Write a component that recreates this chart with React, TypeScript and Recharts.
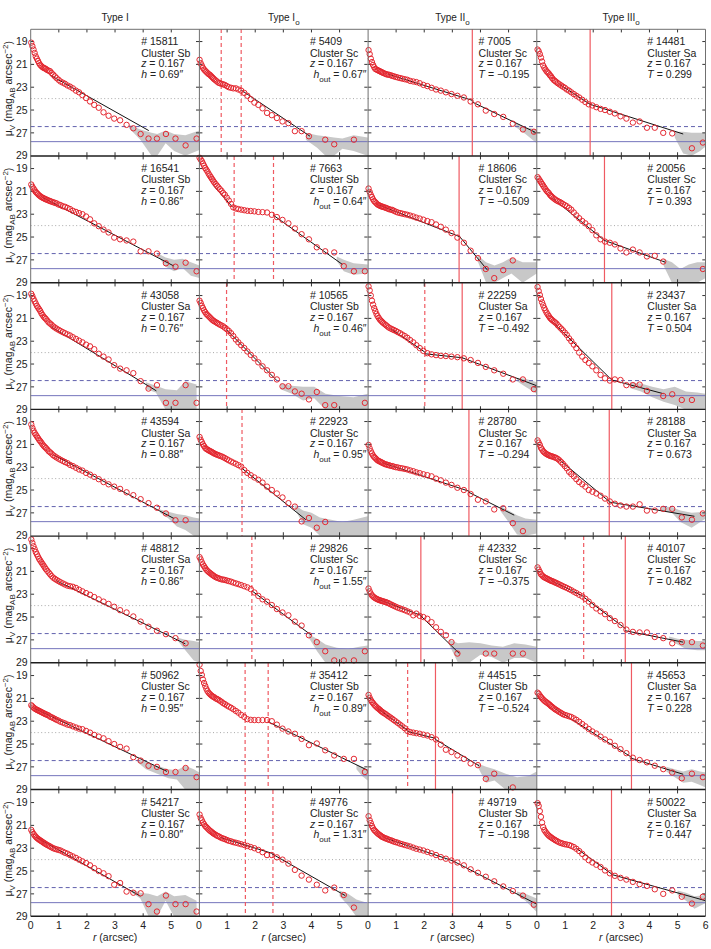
import React from "react";
import { ComposedChart, Scatter, Line, Area, XAxis, YAxis, ReferenceLine } from "recharts";

// radius grid shared by all profiles (arcsec)
const radius = [
  0.02, 0.06, 0.1, 0.14, 0.18, 0.22, 0.26, 0.3, 0.34, 0.38, 0.42, 0.46,
  0.5, 0.54, 0.59, 0.64, 0.69, 0.74, 0.8, 0.86, 0.92, 0.99, 1.06, 1.14,
  1.22, 1.31, 1.4, 1.5, 1.61, 1.72, 1.84, 1.97, 2.11, 2.26, 2.42, 2.59,
  2.77, 2.97, 3.18, 3.41, 3.65, 3.91, 4.19, 4.49, 4.81, 5.15, 5.51, 5.9,
];

const xTicks = [0, 1, 2, 3, 4, 5];
const xTicksLast = [0, 1, 2, 3, 4, 5, 6];
const yTicks = [19, 21, 23, 25, 27, 29];
const columnTitles = ["I", "I", "II", "III"];
const columnSub = ["", "o", "o", "o"];

// surface brightness profiles, mag arcsec^-2
const mu15811 = [19.1, 19.4, 19.7, 20.0, 20.3, 20.5, 20.7, 20.9, 21.05, 21.15, 21.25, 21.3, 21.35, 21.4, 21.5, 21.55, 21.6, 21.75, 21.9, 22.05, 22.2, 22.35, 22.5, 22.6, 22.7, 22.85, 22.95, 23.1, 23.3, 23.45, 23.7, 23.95, 24.25, 24.55, 24.8, 25.2, 25.5, 25.75, 25.9, 26.3, 26.6, 27.1, 27.5, 27.5, 27.1, 27.5, 28.1, 27.5];
const mu5409 = [20.6, 20.9, 21.1, 21.3, 21.45, 21.55, 21.65, 21.75, 21.85, 21.9, 22.0, 22.1, 22.2, 22.3, 22.4, 22.5, 22.6, 22.65, 22.7, 22.75, 22.8, 22.9, 23.0, 23.05, 23.1, 23.1, 23.2, 23.3, 23.5, 23.75, 24.05, 24.35, 24.55, 24.85, 25.25, 25.45, 25.7, 26.0, 26.15, 26.85, 26.85, 27.3, null, 27.6, 28.0, null, 27.6, null];
const mu7005 = [19.75, 20.1, 20.5, 20.8, 21.05, 21.25, 21.4, 21.45, 21.5, 21.55, 21.6, 21.65, 21.7, 21.75, 21.8, 21.85, 21.9, 21.9, 21.95, 22.0, 22.05, 22.1, 22.15, 22.2, 22.25, 22.3, 22.35, 22.45, 22.5, 22.55, 22.65, 22.8, 22.9, 23.05, 23.2, 23.3, 23.45, 23.6, 23.75, 23.9, 24.25, 24.5, 25.05, 25.35, 25.6, 26.2, 26.7, 26.9];
const mu14481 = [19.7, 19.85, 20.1, 20.4, 20.75, 21.1, 21.3, 21.45, 21.6, 21.7, 21.8, 21.95, 22.05, 22.2, 22.35, 22.45, 22.55, 22.65, 22.75, 22.85, 22.95, 23.05, 23.2, 23.3, 23.45, 23.6, 23.75, 23.9, 24.1, 24.3, 24.5, 24.6, 24.75, 24.9, 25.0, 25.15, 25.3, 25.55, 25.75, 26.1, 26.0, 26.55, 26.55, 27.0, 27.05, null, 28.35, 27.85];
const mu16541 = [20.4, 20.6, 20.75, 20.9, 21.05, 21.15, 21.25, 21.35, 21.42, 21.5, 21.55, 21.6, 21.65, 21.7, 21.75, 21.8, 21.85, 21.9, 21.95, 22.0, 22.05, 22.15, 22.2, 22.3, 22.35, 22.45, 22.55, 22.7, 22.8, 22.9, 23.0, 23.2, 23.45, 23.8, 24.05, 24.35, 24.6, 25.05, 25.2, 25.3, 25.4, 26.25, 26.25, 26.45, 27.3, 27.6, 27.25, 28.0];
const mu7663 = [18.05, 18.2, 18.35, 18.55, 18.75, 18.95, 19.1, 19.25, 19.45, 19.6, 19.75, 19.9, 20.05, 20.2, 20.35, 20.5, 20.65, 20.8, 20.95, 21.15, 21.3, 21.55, 21.8, 22.1, 22.4, 22.5, 22.55, 22.6, 22.65, 22.7, 22.72, 22.75, 22.8, 22.82, 22.85, 23.05, 23.25, 23.5, 23.8, 24.25, 24.75, 25.2, 25.9, 26.25, 26.35, 27.55, 28.0, 28.0];
const mu18606 = [20.75, 21.05, 21.3, 21.5, 21.7, 21.85, 21.95, 22.05, 22.15, 22.2, 22.25, 22.3, 22.33, 22.37, 22.4, 22.45, 22.5, 22.55, 22.6, 22.62, 22.7, 22.78, 22.85, 22.9, 22.95, 23.0, 23.05, 23.12, 23.2, 23.3, 23.38, 23.48, 23.6, 23.7, 23.9, 24.1, 24.35, 24.65, 25.05, 25.5, 26.2, 26.85, 27.8, 28.6, 27.9, 27.05];
const mu20056 = [19.75, 19.9, 20.05, 20.2, 20.35, 20.5, 20.65, 20.8, 20.95, 21.05, 21.15, 21.3, 21.4, 21.5, 21.6, 21.7, 21.78, 21.85, 21.92, 22.0, 22.1, 22.2, 22.3, 22.45, 22.6, 22.85, 23.1, 23.35, 23.6, 23.8, 24.05, 24.4, 24.85, 25.2, 25.4, 25.5, 25.65, 26.0, 26.35, 26.1, 26.35, 26.7, 26.65, 27.15, null, null, null, 27.8];
const mu43058 = [18.85, 19.05, 19.3, 19.5, 19.7, 19.9, 20.05, 20.2, 20.35, 20.55, 20.7, 20.85, 20.95, 21.05, 21.2, 21.35, 21.45, 21.55, 21.7, 21.8, 21.9, 22.0, 22.1, 22.2, 22.3, 22.4, 22.5, 22.65, 22.8, 22.95, 23.1, 23.3, 23.45, 23.7, 24.1, 24.35, 24.6, 25.1, 25.4, 25.55, 25.8, 26.5, 27.15, 26.85, 28.4, 28.4, 26.85, 28.4];
const mu10565 = [19.45, 19.65, 19.9, 20.1, 20.3, 20.45, 20.6, 20.7, 20.8, 20.9, 21.0, 21.1, 21.18, 21.25, 21.32, 21.4, 21.47, 21.55, 21.62, 21.7, 21.82, 21.95, 22.1, 22.3, 22.55, 22.85, 23.1, 23.35, 23.6, 23.9, 24.2, 24.5, 24.85, 25.2, 25.55, 25.95, 26.35, 26.95, 26.95, 27.4, 27.6, 28.1, 27.45, 28.6, 28.6, null, null, 28.4];
const mu22259 = [18.2, 18.55, 19.0, 19.45, 19.8, 20.1, 20.35, 20.6, 20.8, 20.95, 21.1, 21.2, 21.3, 21.4, 21.5, 21.6, 21.7, 21.8, 21.88, 21.95, 22.02, 22.1, 22.2, 22.3, 22.42, 22.55, 22.7, 22.9, 23.1, 23.35, 23.6, 23.85, 24.05, 24.15, 24.22, 24.28, 24.3, 24.35, 24.4, 24.5, 24.65, 24.9, 25.25, 25.55, 25.85, 26.35, 26.35, 27.2];
const mu23437 = [18.25, 18.6, 18.95, 19.3, 19.6, 19.85, 20.1, 20.3, 20.5, 20.65, 20.8, 20.95, 21.05, 21.15, 21.25, 21.35, 21.45, 21.6, 21.75, 21.9, 22.05, 22.25, 22.45, 22.75, 23.0, 23.3, 23.6, 24.0, 24.35, 24.65, 24.9, 25.2, 25.55, 25.95, 26.25, 26.45, 26.35, 26.4, 26.85, 26.85, 26.8, 27.35, null, 27.8, 27.65, 28.15, 28.15];
const mu43594 = [19.25, 19.55, 19.8, 20.0, 20.15, 20.3, 20.45, 20.6, 20.72, 20.85, 21.0, 21.12, 21.22, 21.32, 21.45, 21.6, 21.7, 21.8, 21.95, 22.05, 22.15, 22.25, 22.35, 22.45, 22.55, 22.65, 22.8, 22.9, 23.05, 23.2, 23.3, 23.5, 23.65, 23.85, 24.05, 24.3, 24.5, 24.7, 24.9, 25.2, 25.45, 25.8, 26.15, 26.55, 27.05, 27.65, 27.65];
const mu22923 = [20.35, 20.6, 20.8, 21.0, 21.15, 21.3, 21.4, 21.45, 21.52, 21.57, 21.62, 21.68, 21.73, 21.8, 21.85, 21.9, 21.95, 22.0, 22.05, 22.12, 22.2, 22.3, 22.4, 22.5, 22.6, 22.7, 22.82, 22.95, 23.25, 23.5, 23.7, 23.9, 24.1, 24.35, 24.7, 25.0, 25.3, 25.65, 26.15, 26.45, 27.75, 27.45, 28.3, 27.8];
const mu28780 = [21.05, 21.35, 21.6, 21.8, 21.98, 22.1, 22.2, 22.3, 22.4, 22.45, 22.5, 22.55, 22.6, 22.65, 22.72, 22.75, 22.8, 22.82, 22.88, 22.9, 22.95, 23.0, 23.02, 23.08, 23.1, 23.15, 23.2, 23.28, 23.35, 23.45, 23.52, 23.62, 23.7, 23.8, 24.0, 24.15, 24.35, 24.55, 24.8, 25.0, 25.35, 25.85, 26.0, 26.7, 26.6, 27.9, 28.6];
const mu28188 = [20.65, 20.85, 21.05, 21.3, 21.45, 21.6, 21.7, 21.78, 21.85, 21.9, 21.95, 22.0, 22.03, 22.06, 22.1, 22.15, 22.2, 22.28, 22.4, 22.55, 22.7, 22.9, 23.1, 23.4, 23.6, 23.8, 24.05, 24.3, 24.5, 24.7, 25.0, 25.15, 25.3, 25.5, 25.75, 26.0, 26.2, 26.35, 26.45, 26.45, 26.25, 26.8, 26.8, 26.65, 26.65, 27.4, 27.6, 27.05];
const mu48812 = [18.2, 18.5, 18.8, 19.05, 19.3, 19.5, 19.7, 19.9, 20.05, 20.2, 20.35, 20.5, 20.65, 20.8, 20.95, 21.1, 21.25, 21.4, 21.55, 21.65, 21.75, 21.85, 21.95, 22.05, 22.15, 22.25, 22.3, 22.35, 22.45, 22.6, 22.75, 22.9, 23.05, 23.25, 23.45, 23.65, 23.85, 24.1, 24.4, 24.6, 24.95, 25.4, 25.85, 26.2, 26.5, 26.85, 27.3];
const mu29826 = [19.75, 19.95, 20.2, 20.4, 20.55, 20.7, 20.85, 20.95, 21.05, 21.12, 21.2, 21.28, 21.35, 21.42, 21.5, 21.55, 21.6, 21.65, 21.7, 21.72, 21.75, 21.8, 21.85, 21.9, 21.98, 22.05, 22.12, 22.2, 22.3, 22.4, 22.55, 22.85, 23.15, 23.45, 23.65, 23.95, 24.3, 24.6, 24.85, 25.4, 25.75, 26.6, 27.2, 28.0, 28.8, 28.8, 28.8, 28.0];
const mu42332 = [22.5, 22.75, 22.95, 23.1, 23.2, 23.28, 23.35, 23.4, 23.45, 23.5, 23.53, 23.56, 23.6, 23.63, 23.66, 23.7, 23.75, 23.8, 23.88, 23.95, 24.02, 24.1, 24.18, 24.25, 24.32, 24.4, 24.5, 24.6, 24.85, 24.7, 24.9, 25.0, 25.15, 25.45, 25.9, 26.3, 26.6, 27.2, 28.2, null, null, null, 28.2, 28.2, null, 28.2, 28.2];
const mu40107 = [20.65, 20.85, 21.05, 21.25, 21.35, 21.45, 21.52, 21.57, 21.62, 21.67, 21.72, 21.77, 21.82, 21.86, 21.9, 21.97, 22.02, 22.08, 22.15, 22.22, 22.3, 22.37, 22.45, 22.55, 22.65, 22.78, 22.9, 23.05, 23.2, 23.4, 23.65, 23.95, 24.25, 24.5, 24.75, 25.1, 25.35, 25.7, 26.1, 26.3, 26.35, 26.35, 26.75, 26.85, 27.3, 27.2, 27.2, 27.5];
const mu50962 = [21.6, 21.7, 21.8, 21.88, 21.95, 22.0, 22.05, 22.1, 22.15, 22.2, 22.25, 22.3, 22.35, 22.4, 22.45, 22.5, 22.6, 22.65, 22.72, 22.8, 22.88, 22.95, 23.05, 23.12, 23.2, 23.3, 23.35, 23.45, 23.55, 23.65, 23.7, 23.85, 24.0, 24.2, 24.35, 24.5, 24.75, 25.0, 25.25, 25.4, 26.15, 26.45, 26.9, 27.0, 27.45, 27.45, 27.1, 27.9];
const mu35412 = [18.05, 18.6, 18.95, 19.35, 19.65, 19.9, 20.15, 20.35, 20.5, 20.6, 20.7, 20.78, 20.85, 20.9, 21.0, 21.05, 21.12, 21.2, 21.3, 21.42, 21.5, 21.62, 21.72, 21.82, 21.95, 22.1, 22.25, 22.45, 22.62, 22.82, 22.88, 22.9, 22.9, 22.9, 22.9, 23.0, 23.3, 23.65, 23.9, 24.1, 24.55, 25.1, 24.95, 25.55, 26.0, 26.3, 26.3, 27.45];
const mu44515 = [20.7, 20.95, 21.15, 21.3, 21.42, 21.55, 21.65, 21.75, 21.85, 21.92, 22.0, 22.1, 22.17, 22.25, 22.32, 22.4, 22.5, 22.58, 22.68, 22.78, 22.9, 23.02, 23.15, 23.3, 23.45, 23.62, 23.85, 23.95, 24.0, 24.05, 24.1, 24.18, 24.25, 24.4, 24.6, 25.05, 25.5, 25.7, 26.0, 26.3, 26.7, 26.85, 28.05, 27.6, null, 28.8];
const mu45653 = [20.5, 20.6, 20.75, 20.88, 21.0, 21.1, 21.2, 21.28, 21.35, 21.42, 21.5, 21.58, 21.68, 21.75, 21.85, 21.95, 22.02, 22.1, 22.2, 22.28, 22.38, 22.45, 22.5, 22.57, 22.63, 22.75, 22.88, 23.05, 23.25, 23.45, 23.68, 23.9, 24.08, 24.35, 24.6, 24.8, 25.15, 25.45, 25.8, 26.2, 26.4, 26.6, 26.9, 27.2, 27.5, 28.0, 27.6, 27.9];
const mu54217 = [21.4, 21.6, 21.75, 21.88, 22.0, 22.1, 22.18, 22.25, 22.32, 22.38, 22.45, 22.52, 22.58, 22.65, 22.72, 22.78, 22.85, 22.92, 23.0, 23.05, 23.1, 23.15, 23.2, 23.3, 23.4, 23.48, 23.6, 23.72, 23.85, 24.0, 24.15, 24.3, 24.5, 24.75, 25.0, 25.2, 25.45, 26.2, 26.05, 26.8, 26.9, 26.95, 27.9, 28.55, 27.15, 27.9, 27.9, 28.55];
const mu49776 = [20.05, 20.35, 20.55, 20.75, 20.9, 21.05, 21.15, 21.25, 21.35, 21.45, 21.52, 21.6, 21.68, 21.75, 21.82, 21.9, 21.95, 22.02, 22.1, 22.15, 22.2, 22.28, 22.35, 22.4, 22.47, 22.52, 22.58, 22.65, 22.72, 22.8, 22.9, 23.0, 23.15, 23.35, 23.6, 23.6, 23.8, 24.0, 24.35, 24.9, 25.4, 25.75, 26.2, 26.7, 26.45, 27.1, 28.2];
const mu49719 = [20.2, 20.55, 20.8, 21.05, 21.25, 21.4, 21.5, 21.6, 21.7, 21.78, 21.85, 21.92, 22.0, 22.05, 22.1, 22.15, 22.2, 22.25, 22.3, 22.35, 22.42, 22.47, 22.52, 22.6, 22.65, 22.72, 22.78, 22.85, 22.95, 23.05, 23.12, 23.2, 23.32, 23.45, 23.6, 23.78, 23.92, 24.08, 24.25, 24.5, 24.85, 25.15, 25.5, 25.9, 26.35, 26.75, 27.15, 27.95];
const mu50022 = [19.05, 19.3, 19.75, 20.25, 20.75, 21.15, 21.4, 21.55, 21.68, 21.8, 21.9, 21.98, 22.05, 22.12, 22.2, 22.28, 22.35, 22.42, 22.5, 22.55, 22.6, 22.65, 22.68, 22.72, 22.8, 22.9, 23.05, 23.25, 23.5, 23.8, 24.05, 24.25, 24.45, 24.65, 24.95, 25.2, 25.42, 25.6, 25.75, 25.95, 26.15, 26.3, 26.6, 27.0, 26.7, 27.25, 27.85, 27.25];

// fitted exponential segments [r, mu]
const fit15811 = [[[0.7, 21.95], [4.2, 26.8]]];
const fit5409 = [[[1.5, 23.25], [3.95, 27.3]]];
const fit7005 = [[[0.7, 21.85], [3.71, 24.15]], [[3.71, 24.3], [5.95, 26.95]]];
const fit14481 = [[[0.8, 22.75], [1.89, 24.5]], [[1.89, 24.5], [5.2, 27.1]]];
const fit16541 = [[[0.4, 21.5], [5.1, 27.55]]];
const fit7663 = [[[0.5, 20.45], [1.2, 22.4]], [[2.65, 23.1], [5.1, 27.4]]];
const fit18606 = [[[0.4, 22.2], [3.24, 24.95]], [[3.24, 24.9], [4.25, 27.9]]];
const fit20056 = [[[0.55, 21.6], [2.4, 25.3]], [[2.4, 25.3], [4.56, 27.2]]];
const fit43058 = [[[0.7, 21.7], [4.47, 27.35]]];
const fit10565 = [[[0.98, 22.0], [2.75, 26.4]]];
const fit22259 = [[[0.8, 21.9], [2.02, 23.95]], [[2.02, 24.1], [3.35, 24.45]], [[3.35, 24.45], [6, 26.9]]];
const fit23437 = [[[0.53, 21.25], [2.66, 26.4]], [[2.66, 26.4], [4.5, 27.6]]];
const fit43594 = [[[0.8, 21.9], [5.1, 27.5]]];
const fit22923 = [[[1.53, 23.1], [3.8, 27.6]]];
const fit28780 = [[[0.5, 22.6], [3.59, 25.1]], [[3.59, 25.2], [5.2, 27.2]]];
const fit28188 = [[[0.75, 22.25], [2.57, 26.0]], [[2.57, 26.05], [5.6, 27.3]]];
const fit48812 = [[[0.9, 21.8], [5.5, 27.35]]];
const fit29826 = [[[1.88, 22.7], [4.0, 26.6]]];
const fit42332 = [[[0.36, 23.45], [1.88, 24.85]], [[1.88, 24.9], [3.25, 28.2]]];
const fit40107 = [[[0.5, 21.8], [1.66, 23.2]], [[1.66, 23.25], [3.14, 26.0]], [[3.14, 26.2], [5.2, 27.2]]];
const fit50962 = [[[0.15, 21.9], [4.85, 27.4]]];
const fit35412 = [[[2.46, 23.05], [6, 27.3]]];
const fit44515 = [[[0.35, 21.9], [1.41, 23.8]], [[1.41, 23.9], [2.4, 24.5]], [[2.4, 24.6], [3.95, 26.9]]];
const fit45653 = [[[0.6, 21.85], [3.36, 26.15]], [[3.36, 26.25], [5.2, 27.65]]];
const fit54217 = [[[0.2, 22.05], [3.9, 27.2]]];
const fit49776 = [[[0.75, 22.05], [2.6, 23.45]], [[2.6, 23.5], [5.2, 27.15]]];
const fit49719 = [[[0.6, 22.1], [3.01, 24.1]], [[3.01, 24.1], [6, 27.9]]];
const fit50022 = [[[1.4, 23.0], [2.65, 25.25]], [[2.65, 25.3], [6, 27.6]]];

// uncertainty envelope [r, low, high]
const band15811 = [[3.5, 26.3, 26.6], [3.9, 26.7, 27.6], [4.3, 27.0, 29], [4.5, 27.1, 29], [4.8, 26.8, 27.9], [5.1, 27.1, 28.6], [5.5, 27.2, 29], [6, 26.8, 28.5]];
const band5409 = [[3.8, 27.0, 27.6], [4.2, 27.2, 28.3], [4.5, 27.3, 29], [4.8, 27.4, 29], [5.1, 27.5, 28.4], [5.5, 27.2, 28.6], [6, 27.4, 29]];
const band7005 = [[5.2, 26.1, 26.4], [5.6, 26.5, 27.1], [6, 26.7, 27.9]];
const band14481 = [[4.9, 26.9, 27.4], [5.2, 26.9, 28.8], [5.5, 27.0, 29], [5.8, 27.0, 28.6], [6, 27.0, 28.2]];
const band16541 = [[4.5, 26.4, 26.6], [4.8, 26.8, 27.6], [5.1, 27.0, 28.0], [5.4, 26.9, 27.7], [5.7, 27.2, 28.4], [6, 27.5, 28.6]];
const band7663 = [[4.9, 26.7, 27.1], [5.15, 27.0, 28.0], [5.5, 27.3, 28.3], [6, 27.4, 28.2]];
const band18606 = [[3.9, 26.6, 27.1], [4.2, 27.2, 29], [4.5, 27.5, 29], [4.8, 27.2, 28.6], [5.1, 26.8, 28.2], [5.5, 27.2, 29], [6, 27.2, 28.2]];
const band20056 = [[4.5, 26.9, 27.5], [4.8, 27.2, 29], [5.1, 27.8, 29], [5.4, 27.4, 29], [5.7, 27.2, 29], [6, 27.2, 28.6]];
const band43058 = [[4.1, 26.6, 27.2], [4.45, 26.9, 27.5], [4.8, 27.2, 29], [5.2, 27.3, 29], [5.5, 26.5, 29], [5.9, 26.8, 29]];
const band10565 = [[2.9, 26.7, 27.2], [3.3, 26.9, 27.6], [3.7, 27.0, 28.2], [4.1, 27.0, 28.0], [4.5, 27.6, 29], [5.0, 27.8, 29], [5.5, 27.9, 29], [6, 27.6, 29]];
const band22259 = [[5.3, 26.2, 26.5], [5.6, 26.3, 27.0], [6, 26.6, 27.6]];
const band23437 = [[3.3, 26.6, 27.1], [3.7, 26.7, 27.4], [4.1, 27.0, 27.9], [4.5, 27.2, 28.3], [4.9, 27.0, 28.6], [5.3, 27.4, 29], [5.7, 27.5, 29], [6, 27.6, 29]];
const band43594 = [[4.6, 26.7, 27.0], [4.9, 26.9, 27.5], [5.2, 27.1, 28.2], [5.5, 27.2, 28.5], [5.8, 27.4, 29], [6, 27.5, 29]];
const band22923 = [[3.4, 26.3, 26.6], [3.7, 26.8, 28.0], [4.0, 27.0, 28.3], [4.3, 27.4, 29], [4.7, 27.6, 29], [5.1, 27.8, 29], [5.5, 27.6, 29], [6, 27.3, 29]];
const band28780 = [[4.7, 26.4, 26.8], [5.0, 26.8, 27.8], [5.3, 27.2, 28.9], [5.6, 27.5, 29], [6, 27.6, 28.8]];
const band28188 = [[4.4, 26.4, 26.8], [4.8, 26.5, 27.0], [5.1, 26.8, 27.8], [5.5, 27.0, 28.3], [6, 26.9, 27.5]];
const band48812 = [[5.2, 26.8, 27.0], [5.5, 27.0, 27.9], [5.8, 27.1, 28.8], [6, 27.2, 29]];
const band29826 = [[3.9, 26.5, 26.8], [4.2, 26.9, 28.0], [4.5, 27.4, 29], [4.9, 27.7, 29], [5.3, 27.8, 29], [5.7, 27.6, 29], [6, 27.5, 29]];
const band42332 = [[2.9, 27.0, 27.5], [3.2, 27.3, 29], [3.6, 27.2, 29], [4.0, 27.3, 28.3], [4.4, 27.5, 28.5], [4.8, 27.6, 29], [5.2, 27.3, 28.6], [5.6, 27.4, 28.6], [6, 27.6, 29]];
const band40107 = [[4.7, 26.7, 27.0], [5.0, 26.9, 27.4], [5.3, 27.0, 27.8], [5.7, 27.1, 27.9], [6, 27.1, 27.9]];
const band50962 = [[3.8, 26.3, 26.6], [4.1, 26.6, 27.2], [4.5, 26.9, 27.6], [4.9, 27.2, 28.0], [5.2, 27.3, 28.1], [5.5, 26.9, 29], [5.8, 27.2, 29], [6, 27.5, 29]];
const band35412 = [[5.6, 26.8, 27.2], [5.8, 27.0, 27.8], [6, 27.2, 28.2]];
const band44515 = [[3.9, 26.7, 27.0], [4.2, 27.0, 28.4], [4.5, 27.2, 28.2], [4.9, 27.6, 29], [5.3, 27.9, 29], [5.7, 27.8, 29], [6, 27.4, 29]];
const band45653 = [[4.6, 27.0, 27.4], [4.9, 27.2, 27.9], [5.2, 27.4, 28.4], [5.5, 27.2, 28.3], [5.8, 27.4, 28.6], [6, 27.5, 28.8]];
const band54217 = [[3.6, 26.6, 26.9], [3.9, 26.9, 27.4], [4.2, 27.0, 29], [4.5, 27.2, 29], [4.8, 26.8, 27.6], [5.1, 27.2, 29], [5.5, 27.1, 29], [5.9, 27.6, 29]];
const band49776 = [[5.0, 26.7, 27.2], [5.3, 27.0, 28.0], [5.6, 27.5, 29], [6, 27.8, 29]];
const band49719 = [[5.3, 26.8, 27.1], [5.6, 27.0, 27.6], [6, 27.4, 28.6]];
const band50022 = [[5.0, 26.7, 27.1], [5.3, 26.9, 27.6], [5.6, 27.2, 28.3], [6, 27.1, 27.8]];

// row-major: Type I, Type Io, Type IIo, Type IIIo
const panels = [
  { id: "15811", cls: "Sb", kind: "h", val: "0.69", mu: mu15811, fit: fit15811, band: band15811, dash: [], solid: [] },
  { id: "5409", cls: "Sc", kind: "hout", val: "0.67", mu: mu5409, fit: fit5409, band: band5409, dash: [0.79, 1.5], solid: [] },
  { id: "7005", cls: "Sc", kind: "T", val: "\u22120.195", mu: mu7005, fit: fit7005, band: band7005, dash: [], solid: [3.71] },
  { id: "14481", cls: "Sa", kind: "T", val: "0.299", mu: mu14481, fit: fit14481, band: band14481, dash: [], solid: [1.89] },
  { id: "16541", cls: "Sb", kind: "h", val: "0.86", mu: mu16541, fit: fit16541, band: band16541, dash: [], solid: [] },
  { id: "7663", cls: "Sb", kind: "hout", val: "0.64", mu: mu7663, fit: fit7663, band: band7663, dash: [1.25, 2.65], solid: [] },
  { id: "18606", cls: "Sc", kind: "T", val: "\u22120.509", mu: mu18606, fit: fit18606, band: band18606, dash: [], solid: [3.24] },
  { id: "20056", cls: "Sc", kind: "T", val: "0.393", mu: mu20056, fit: fit20056, band: band20056, dash: [], solid: [2.4] },
  { id: "43058", cls: "Sa", kind: "h", val: "0.76", mu: mu43058, fit: fit43058, band: band43058, dash: [], solid: [] },
  { id: "10565", cls: "Sb", kind: "hout", val: "0.46", mu: mu10565, fit: fit10565, band: band10565, dash: [0.98], solid: [] },
  { id: "22259", cls: "Sa", kind: "T", val: "\u22120.492", mu: mu22259, fit: fit22259, band: band22259, dash: [2.02], solid: [3.35] },
  { id: "23437", cls: "Sa", kind: "T", val: "0.504", mu: mu23437, fit: fit23437, band: band23437, dash: [], solid: [2.66] },
  { id: "43594", cls: "Sa", kind: "h", val: "0.88", mu: mu43594, fit: fit43594, band: band43594, dash: [], solid: [] },
  { id: "22923", cls: "Sc", kind: "hout", val: "0.95", mu: mu22923, fit: fit22923, band: band22923, dash: [1.53], solid: [] },
  { id: "28780", cls: "Sc", kind: "T", val: "\u22120.294", mu: mu28780, fit: fit28780, band: band28780, dash: [], solid: [3.59] },
  { id: "28188", cls: "Sa", kind: "T", val: "0.673", mu: mu28188, fit: fit28188, band: band28188, dash: [], solid: [2.57] },
  { id: "48812", cls: "Sa", kind: "h", val: "0.86", mu: mu48812, fit: fit48812, band: band48812, dash: [], solid: [] },
  { id: "29826", cls: "Sc", kind: "hout", val: "1.55", mu: mu29826, fit: fit29826, band: band29826, dash: [1.88], solid: [] },
  { id: "42332", cls: "Sc", kind: "T", val: "\u22120.375", mu: mu42332, fit: fit42332, band: band42332, dash: [], solid: [1.88] },
  { id: "40107", cls: "Sc", kind: "T", val: "0.482", mu: mu40107, fit: fit40107, band: band40107, dash: [1.66], solid: [3.14] },
  { id: "50962", cls: "Sc", kind: "h", val: "0.95", mu: mu50962, fit: fit50962, band: band50962, dash: [], solid: [] },
  { id: "35412", cls: "Sb", kind: "hout", val: "0.89", mu: mu35412, fit: fit35412, band: band35412, dash: [1.64, 2.46], solid: [] },
  { id: "44515", cls: "Sb", kind: "T", val: "\u22120.524", mu: mu44515, fit: fit44515, band: band44515, dash: [1.41], solid: [2.4] },
  { id: "45653", cls: "Sa", kind: "T", val: "0.228", mu: mu45653, fit: fit45653, band: band45653, dash: [], solid: [3.36] },
  { id: "54217", cls: "Sc", kind: "h", val: "0.80", mu: mu54217, fit: fit54217, band: band54217, dash: [], solid: [] },
  { id: "49776", cls: "Sc", kind: "hout", val: "1.31", mu: mu49776, fit: fit49776, band: band49776, dash: [1.65, 2.63], solid: [] },
  { id: "49719", cls: "Sb", kind: "T", val: "\u22120.198", mu: mu49719, fit: fit49719, band: band49719, dash: [], solid: [3.01] },
  { id: "50022", cls: "Sa", kind: "T", val: "0.447", mu: mu50022, fit: fit50022, band: band50022, dash: [], solid: [2.65] },
];

const FONT = '"Liberation Sans", Arial, Helvetica, sans-serif';
const X0 = 30.7;
const Y0 = 29.3;
const PW = 168.7;
const PH = 126.7;
const AXW = 30.7;
const AXH = 30;
const M = 5;
const NROW = 7;
const RED = "#e3262f";
const BREAK_RED = "#ef5a62";
const MU_TOP = 17.9;
const MU_BOTTOM = 29;

const ring = (props: any) => (
  <circle cx={props.cx} cy={props.cy} r={2.7} fill="none" stroke={RED} strokeWidth={1} />
);

function Panel({ p, row, col }: { p: any; row: number; col: number }) {
  const padL = col === 0 ? AXW : M;
  const padB = row === NROW - 1 ? AXH : M;
  const pts = radius
    .map((r, i) => ({ r, mu: p.mu[i] }))
    .filter((d) => d.mu !== null && d.mu !== undefined);
  const bandRows = p.band.map(([r, lo, hi]: number[]) => ({ r, band: [lo, hi] }));
  const breaks = [
    ...p.dash.map((x: number) => ({ x, dashed: true })),
    ...p.solid.map((x: number) => ({ x, dashed: false })),
  ];
  const tickStyle = { fontSize: 10.5, fill: "#222", fontFamily: FONT };
  const minorX = [1, 2, 3, 4, 5];
  const minorY = [19, 21, 23, 25, 27];
  return (
    <div style={{ position: "absolute", left: X0 + col * PW - padL, top: Y0 + row * PH - M }}>
      <ComposedChart
        width={padL + PW + M}
        height={M + PH + padB}
        data={bandRows}
        margin={{ top: M, right: M, bottom: row === NROW - 1 ? 0 : M, left: col === 0 ? 0 : M }}
      >
        <XAxis
          type="number"
          dataKey="r"
          domain={[0, 6]}
          ticks={col === 3 ? xTicksLast : xTicks}
          interval={0}
          hide={row !== NROW - 1}
          height={AXH}
          axisLine={false}
          tickLine={false}
          tickSize={0}
          tickMargin={5}
          tick={tickStyle}
        />
        <YAxis
          type="number"
          dataKey="mu"
          domain={[MU_TOP, MU_BOTTOM]}
          reversed
          ticks={yTicks}
          interval={0}
          hide={col !== 0}
          width={AXW}
          axisLine={false}
          tickLine={false}
          tickSize={0}
          tickMargin={3}
          tick={tickStyle}
        />
        <Area dataKey="band" type="linear" stroke="none" fill="#c8c8c8" fillOpacity={1} isAnimationActive={false} />
        <ReferenceLine key="lvl24" y={24} stroke="#a8a8a8" strokeDasharray="1 2.5" />
        <ReferenceLine key="lvlsky" y={26.45} stroke="#6060ad" strokeDasharray="4 3" />
        <ReferenceLine key="lvllim" y={27.77} stroke="#7474bc" />
        {breaks.map((b: any, i: number) => (
          <Line
            key={"b" + i}
            data={[
              { r: b.x, mu: MU_TOP },
              { r: b.x, mu: MU_BOTTOM },
            ]}
            dataKey="mu"
            type="linear"
            stroke={BREAK_RED}
            strokeWidth={1.2}
            strokeDasharray={b.dashed ? "4 3" : undefined}
            dot={false}
            isAnimationActive={false}
          />
        ))}
        <Scatter data={pts} shape={ring} isAnimationActive={false} />
        {p.fit.map((seg: number[][], i: number) => (
          <Line
            key={"f" + i}
            data={seg.map(([r, mu]) => ({ r, mu }))}
            dataKey="mu"
            type="linear"
            stroke="#111"
            strokeWidth={1}
            dot={false}
            isAnimationActive={false}
          />
        ))}
        {minorX.map((x) => (
          <ReferenceLine key={"tb" + x} segment={[{ x, y: MU_BOTTOM }, { x, y: 28.7 }]} stroke="#333" />
        ))}
        {minorX.map((x) => (
          <ReferenceLine key={"tt" + x} segment={[{ x, y: MU_TOP }, { x, y: 18.2 }]} stroke="#333" />
        ))}
        {minorY.map((y) => (
          <ReferenceLine key={"tl" + y} segment={[{ x: 0, y }, { x: 0.12, y }]} stroke="#333" />
        ))}
        {minorY.map((y) => (
          <ReferenceLine key={"tr" + y} segment={[{ x: 5.88, y }, { x: 6, y }]} stroke="#333" />
        ))}
      </ComposedChart>
    </div>
  );
}

function Overlay() {
  const rows = Array.from({ length: NROW }, (_, i) => i);
  return (
    <svg
      width={711}
      height={949}
      style={{ position: "absolute", left: 0, top: 0, pointerEvents: "none" }}
      fontFamily={FONT}
      fill="#222"
    >
      {[0, 1, 2, 3, 4].map((c) => (
        <line key={"v" + c} x1={X0 + c * PW} x2={X0 + c * PW} y1={Y0} y2={Y0 + NROW * PH} stroke="#707070" strokeWidth={1} />
      ))}
      {Array.from({ length: NROW + 1 }, (_, r) => (
        <line
          key={"h" + r}
          x1={X0}
          x2={X0 + 4 * PW}
          y1={Y0 + r * PH}
          y2={Y0 + r * PH}
          stroke={r === 0 ? "#707070" : "#1e1e1e"}
          strokeWidth={r === 0 ? 1 : 1.4}
        />
      ))}
      {columnTitles.map((t, c) => (
        <text key={"t" + c} x={X0 + c * PW + PW / 2} y={21} textAnchor="middle" fontSize={10}>
          Type {t}
          {columnSub[c] && (
            <tspan dy={3.5} fontSize={8}>
              {columnSub[c]}
            </tspan>
          )}
        </text>
      ))}
      {panels.map((p, i) => {
        const row = Math.floor(i / 4);
        const col = i % 4;
        const px = X0 + col * PW + 110.5;
        const py = Y0 + row * PH;
        return (
          <g key={"a" + p.id} fontSize={10.5}>
            <text x={px} y={py + 16}>
              # {p.id}
            </text>
            <text x={px} y={py + 27.2}>
              Cluster {p.cls}
            </text>
            <text x={px} y={py + 38}>
              <tspan fontStyle="italic">z</tspan> = 0.167
            </text>
            {p.kind === "h" && (
              <text x={px} y={py + 48.8}>
                <tspan fontStyle="italic">h</tspan> = {p.val}
                {"\u2033"}
              </text>
            )}
            {p.kind === "hout" && (
              <text x={px + 3.5} y={py + 48.8}>
                <tspan fontStyle="italic">h</tspan>
                <tspan dy={4} fontSize={8}>
                  out
                </tspan>
                <tspan dy={-4}> = {p.val}{"\u2033"}</tspan>
              </text>
            )}
            {p.kind === "T" && (
              <text x={px} y={py + 48.8}>
                <tspan fontStyle="italic">T</tspan> = {p.val}
              </text>
            )}
          </g>
        );
      })}
      {rows.map((r) => (
        <text
          key={"y" + r}
          transform={`translate(12, ${Y0 + r * PH + PH / 2 - 4}) rotate(-90)`}
          textAnchor="middle"
          fontSize={10.5}
        >
          {"\u03bc"}
          <tspan dy={3} fontSize={8}>V</tspan>
          <tspan dy={-3}> (mag</tspan>
          <tspan dy={3} fontSize={8}>AB</tspan>
          <tspan dy={-3}> arcsec</tspan>
          <tspan dy={-4} fontSize={8}>{"\u22122"}</tspan>
          <tspan dy={4}>)</tspan>
        </text>
      ))}
      {[0, 1, 2, 3].map((c) => (
        <text key={"x" + c} x={X0 + c * PW + PW / 2} y={940.5} textAnchor="middle" fontSize={10.5}>
          <tspan fontStyle="italic">r</tspan> (arcsec)
        </text>
      ))}
    </svg>
  );
}

export default function App() {
  return (
    <div style={{ position: "absolute", left: 0, top: 0, width: 711, height: 949, background: "#fff", overflow: "hidden" }}>
      {panels.map((p, i) => (
        <Panel key={p.id} p={p} row={Math.floor(i / 4)} col={i % 4} />
      ))}
      <Overlay />
    </div>
  );
}
